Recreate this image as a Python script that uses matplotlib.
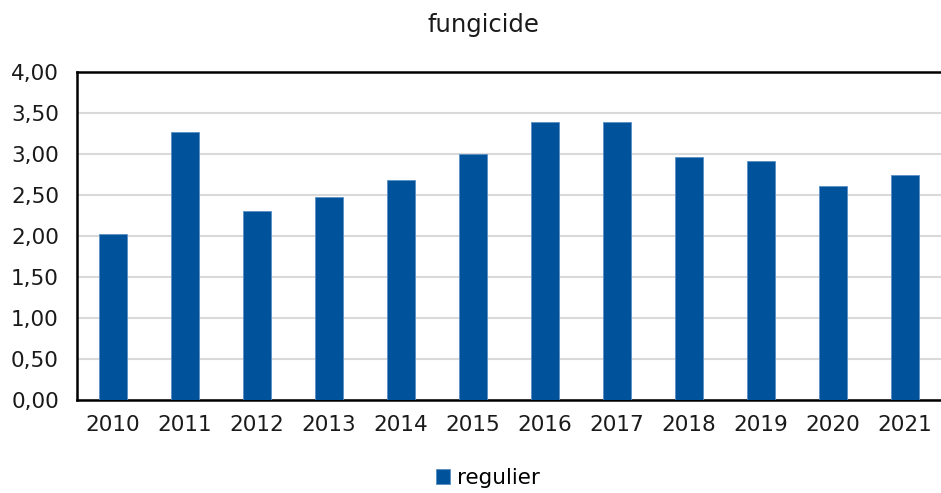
import matplotlib
matplotlib.use('Agg')
import matplotlib.pyplot as plt
from matplotlib.ticker import FuncFormatter

# data
years = ['2010', '2011', '2012', '2013', '2014', '2015',
         '2016', '2017', '2018', '2019', '2020', '2021']
regulier = [2.02, 3.27, 2.31, 2.48, 2.68, 3.00, 3.39, 3.39, 2.97, 2.92, 2.61, 2.75]

bar_color = '#00539B'

fig = plt.figure(figsize=(9.41, 4.93), dpi=100)
ax = fig.add_axes([0.0818, 0.1886, 0.918, 0.665])

ax.bar(range(len(years)), regulier, width=0.39, color=bar_color,
       edgecolor='#5b8fc4', linewidth=0.6, label='regulier', zorder=3)

ax.set_xlim(-0.5, len(years) - 0.5)
ax.set_ylim(0, 4)
ax.set_yticks([0, 0.5, 1, 1.5, 2, 2.5, 3, 3.5, 4])
ax.yaxis.set_major_formatter(FuncFormatter(lambda v, p: f'{v:.2f}'.replace('.', ',')))
ax.set_xticks(range(len(years)))
ax.set_xticklabels(years)
ax.grid(axis='y', color='#d9d9d9', linewidth=1.5, zorder=0)
ax.tick_params(axis='both', length=0, labelsize=15.5, colors='#1a1a1a')
ax.tick_params(axis='x', pad=11)
ax.tick_params(axis='y', pad=13)

for s in ['left', 'top', 'bottom']:
    ax.spines[s].set_color('black')
    ax.spines[s].set_linewidth(1.8)
ax.spines['right'].set_visible(False)

fig.text(483 / 941, 1 - 25 / 493, 'fungicide', ha='center', va='center',
         fontsize=17.5, color='#1a1a1a')

fig.legend(loc='center', bbox_to_anchor=(488 / 941, 1 - 478 / 493), frameon=False,
           fontsize=15.5, handlelength=0.65, handleheight=0.65, handletextpad=0.3)

fig.savefig('out.png', dpi=100)
